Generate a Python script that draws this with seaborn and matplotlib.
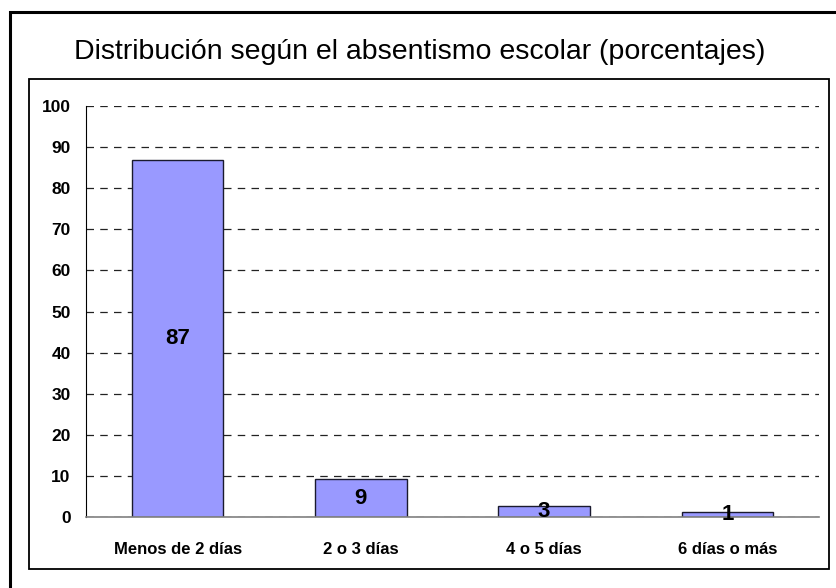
import matplotlib
matplotlib.use("Agg")
import matplotlib.pyplot as plt
from matplotlib.patches import Rectangle
import seaborn as sns
import pandas as pd

# Datos del gráfico
categorias = ["Menos de 2 días", "2 o 3 días", "4 o 5 días", "6 días o más"]
porcentajes = [86.8, 9.2, 2.7, 1.1]
etiquetas = ["87", "9", "3", "1"]
titulo = "Distribución según el absentismo escolar (porcentajes)"

df = pd.DataFrame({"categoria": categorias, "porcentaje": porcentajes})

sns.set_style("white")
plt.rcParams["font.family"] = ["Liberation Sans", "DejaVu Sans"]
plt.rcParams["text.color"] = "black"
plt.rcParams["xtick.color"] = "black"
plt.rcParams["ytick.color"] = "black"

W, H = 837, 588
fig = plt.figure(figsize=(W / 100, H / 100), dpi=100)
ax = fig.add_axes([86 / W, 1 - 517 / H, (819 - 86) / W, (517 - 106) / H])

sns.barplot(data=df, x="categoria", y="porcentaje", color="#9999FF",
            saturation=1, width=0.5, edgecolor="#1a1a2e", linewidth=1, ax=ax)

ax.set_xlim(-0.5, len(categorias) - 0.5)
ax.set_ylim(0, 100)
ax.set_yticks(range(0, 101, 10))
ax.grid(axis="y", color="#222222", linestyle=(0, (6, 5)), linewidth=0.9)
ax.set_axisbelow(True)

for i, (v, t) in enumerate(zip(porcentajes, etiquetas)):
    ax.text(i, v / 2, t, ha="center", va="center", fontsize=16,
            fontweight="bold", color="black")

ax.set_xlabel("")
ax.set_ylabel("")
for s in ["top", "right"]:
    ax.spines[s].set_visible(False)
ax.spines["left"].set_color("black")
ax.spines["bottom"].set_color("#808080")
ax.spines["bottom"].set_linewidth(1.2)

ax.tick_params(axis="y", length=5, width=0.9, color="black", direction="out",
               labelsize=12.5, pad=6)
for lab in ax.get_yticklabels():
    lab.set_fontweight("bold")
ax.set_xticks(range(len(categorias)))
ax.set_xticklabels(categorias, fontsize=12, fontweight="bold")
ax.tick_params(axis="x", which="major", length=0, pad=18)
ax.set_xticks([i - 0.5 for i in range(len(categorias) + 1)], minor=True)
ax.tick_params(axis="x", which="minor", length=5, color="#808080", direction="out")

# Marcos estilo Excel
fig.patches.append(Rectangle((10 / W, -0.1), 1.2, 1 - 12 / H + 0.1, transform=fig.transFigure,
                             fill=False, edgecolor="black", linewidth=2.2))
fig.patches.append(Rectangle((29 / W, 1 - 569 / H), (829 - 29) / W, (569 - 79) / H,
                             transform=fig.transFigure, fill=False,
                             edgecolor="black", linewidth=1.3))

fig.text(420 / W, 1 - 52 / H, titulo, ha="center", va="center", fontsize=20.5)

fig.savefig("out.png", dpi=100)
